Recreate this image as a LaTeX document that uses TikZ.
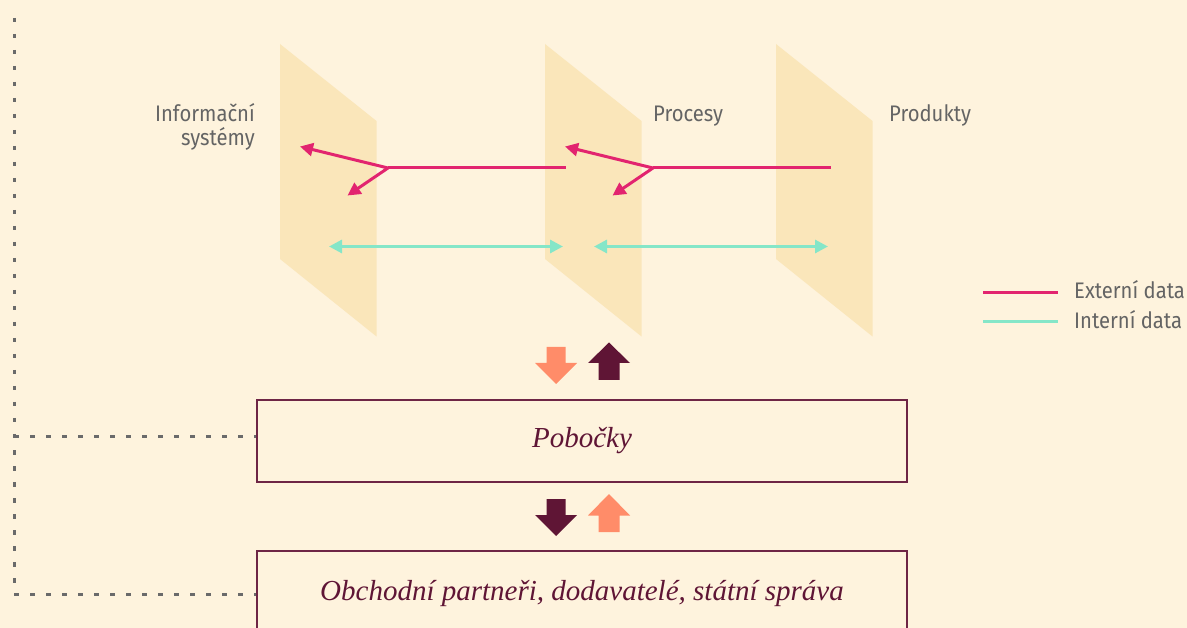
\documentclass[tikz,border=0pt]{standalone}
\usepackage{fontspec}
\setmainfont{Liberation Serif}
\newfontfamily\labelfont[FakeStretch=0.9]{Fira Sans}
\usetikzlibrary{arrows.meta}
\definecolor{bg}{HTML}{FEF3DD}
\definecolor{panelc}{HTML}{FAE6BA}
\definecolor{extc}{HTML}{E2246F}
\definecolor{intc}{HTML}{85E6C8}
\definecolor{orangec}{HTML}{FF8C69}
\definecolor{darkc}{HTML}{5F1535}
\definecolor{boxc}{HTML}{6E2545}
\definecolor{labelc}{HTML}{646464}
\definecolor{dotc}{HTML}{6A6A6A}
\begin{document}
\begin{tikzpicture}[x=1pt,y=-1pt,
  panel/.style={fill=panelc},
  extline/.style={draw=extc,line width=3pt},
  extarrow/.style={extline,-{Triangle[length=13pt,width=13pt]}},
  intarrow/.style={draw=intc,line width=3pt,{Triangle[length=13pt,width=13pt]}-{Triangle[length=13pt,width=13pt]}},
  intline/.style={draw=intc,line width=3pt},
  lbl/.style={font=\labelfont\fontsize{22.5}{24}\selectfont,text=labelc,inner sep=0pt},
  box/.style={draw=boxc,line width=1.5pt,minimum width=650pt,minimum height=82pt,
    font=\itshape\fontsize{29}{32}\selectfont,text=darkc},
  dotline/.style={draw=dotc,line width=3pt,dash pattern=on 4.5pt off 11.5pt},
]
\useasboundingbox (0,0) rectangle (1187,628);
\fill[bg] (0,0) rectangle (1187,628);

% three slanted layers
\foreach \x in {280,545,776}
  \fill[panel] (\x,44) -- (\x+96.5,121) -- (\x+96.5,336.5) -- (\x,259) -- cycle;

% layer labels
\node[lbl,anchor=base east] (is1) at (255,122) {Informační};
\node[lbl,anchor=base east] (is2) at (255,146) {systémy};
\node[lbl,anchor=base west] (proc) at (653,122) {Procesy};
\node[lbl,anchor=base west] (prod) at (889,122) {Produkty};

% external data flows
\coordinate (j1) at (388,168);
\coordinate (e1) at (566,168);
\coordinate (a1) at (300,146.5);
\coordinate (b1) at (347.5,195.5);
\coordinate (j2) at (653,168);
\coordinate (e2) at (831,168);
\coordinate (a2) at (565,146.5);
\coordinate (b2) at (612.5,195.5);
\draw[extline] (j1) -- (e1);
\draw[extarrow] (j1) -- (a1);
\draw[extarrow] (j1) -- (b1);
\draw[extline] (j2) -- (e2);
\draw[extarrow] (j2) -- (a2);
\draw[extarrow] (j2) -- (b2);

% internal data flows
\coordinate (i1) at (329,246.5);
\coordinate (i2) at (563,246.5);
\coordinate (i3) at (594,246.5);
\coordinate (i4) at (828,246.5);
\draw[intarrow] (i1) -- (i2);
\draw[intarrow] (i3) -- (i4);

% legend
\coordinate (lx1) at (983,293);
\coordinate (lx2) at (1058,293);
\coordinate (li1) at (983,322);
\coordinate (li2) at (1058,322);
\draw[extline] (lx1) -- (lx2);
\draw[intline] (li1) -- (li2);
\node[lbl,anchor=base west] (lext) at (1074,299) {Externí data};
\node[lbl,anchor=base west] (lint) at (1074,329) {Interní data};

% boxes
\node[box] (pob) at (582,441) {Pobočky};
\node[box] (obch) at (582,592) {};
\node[font=\itshape\fontsize{29}{32}\selectfont,text=darkc,anchor=base] (obtxt) at (582,600)
  {Obchodní partneři, dodavatelé, státní správa};

% block arrows between layers and branches
\fill[orangec] (535,363) -- (546.5,363) -- (546.5,347) -- (565.5,347) -- (565.5,363) -- (577,363) -- (556,384) -- cycle;
\fill[darkc] (588,363) -- (598.5,363) -- (598.5,380) -- (619.5,380) -- (619.5,363) -- (630,363) -- (609,342.5) -- cycle;
\fill[darkc] (535,515) -- (546.5,515) -- (546.5,499) -- (565.5,499) -- (565.5,515) -- (577,515) -- (556,536) -- cycle;
\fill[orangec] (588,515.5) -- (598.5,515.5) -- (598.5,532) -- (619.5,532) -- (619.5,515.5) -- (630,515.5) -- (609,494) -- cycle;

% dotted bracket on the left
\coordinate (dtop) at (14,18);
\draw[dotline] (dtop) |- ([yshift=-2pt]obch.west);
\draw[dotline] (dtop |- pob.west) ++(0,-4) -- ([yshift=4pt]pob.west);
\end{tikzpicture}
\end{document}
